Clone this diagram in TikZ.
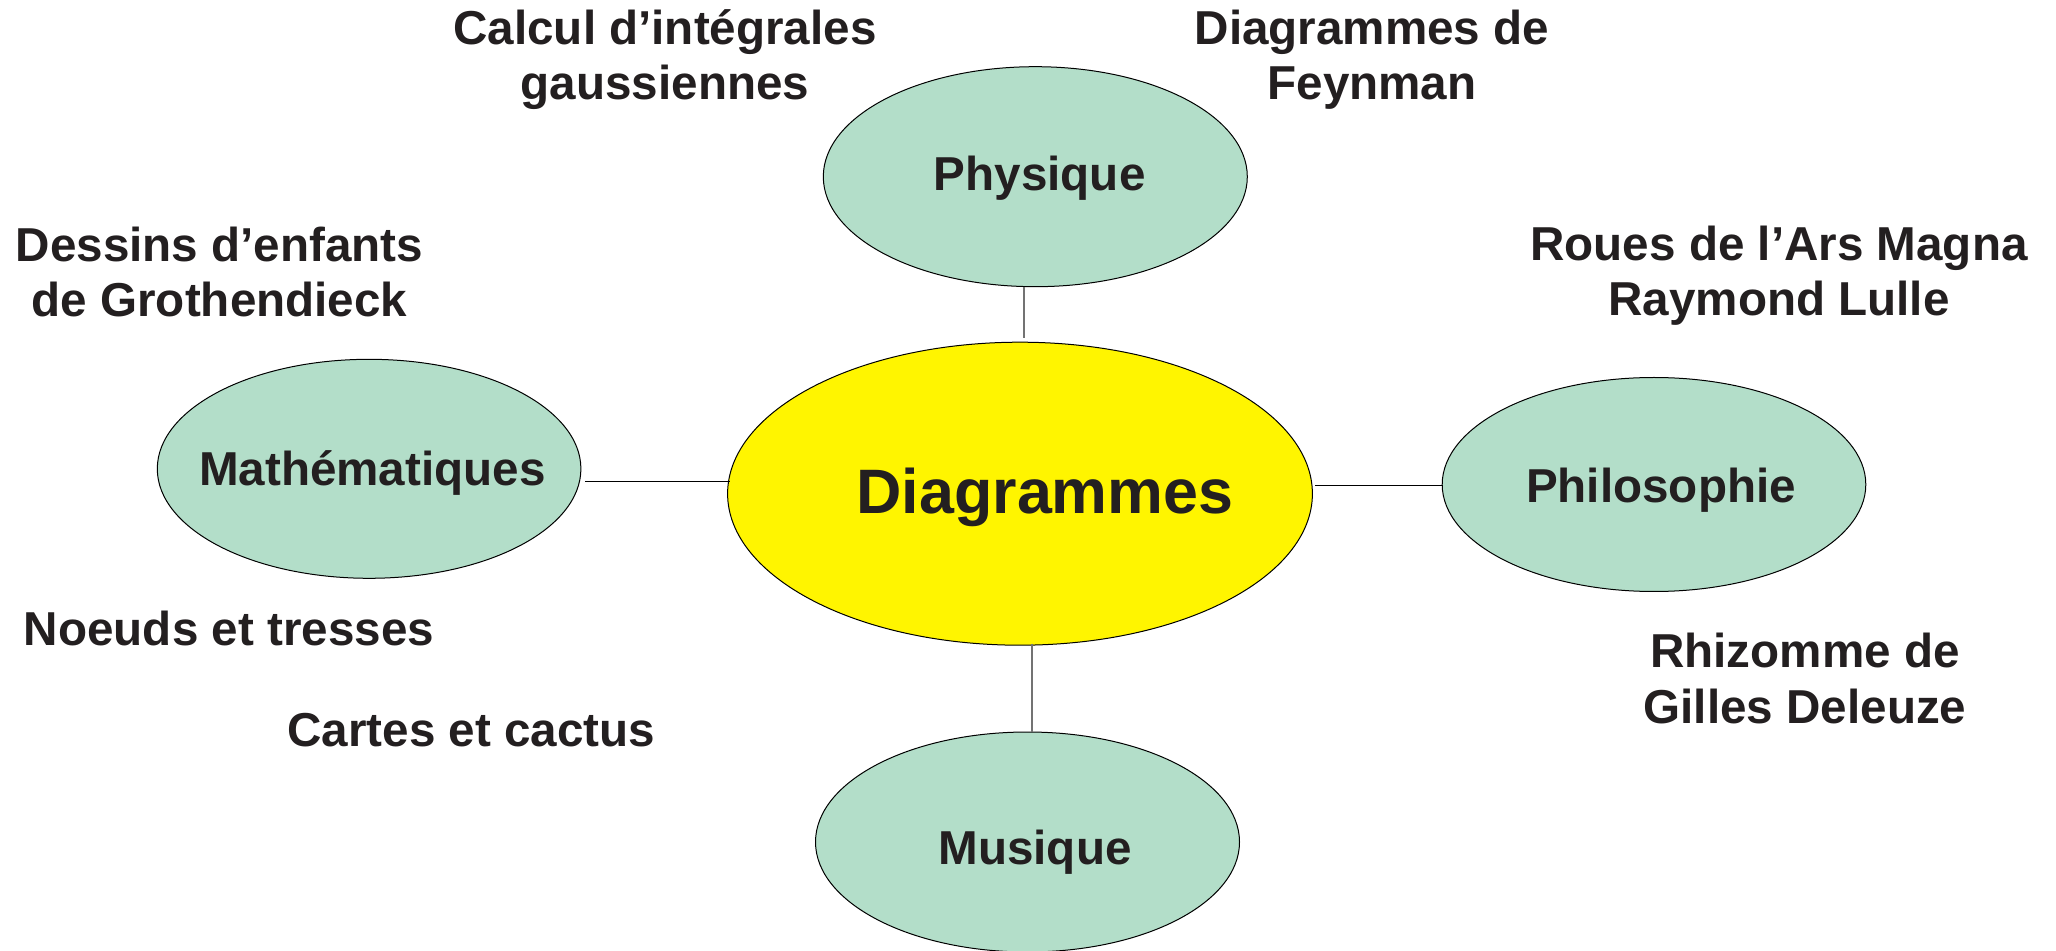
\documentclass[tikz,border=0pt]{standalone}
\usepackage{fontspec}
\setmainfont{Liberation Sans}
\usetikzlibrary{shapes.geometric,calc}

\definecolor{inkdark}{HTML}{231F20}
\definecolor{leafgreen}{HTML}{B3DEC9}
\definecolor{hubyellow}{HTML}{FFF500}

\tikzset{
  topic/.style={ellipse, draw=black, line width=0.5pt, fill=leafgreen, inner sep=0pt},
  hub/.style={ellipse, draw=black, line width=0.5pt, fill=hubyellow, inner sep=0pt},
  label/.style={anchor=base, inner sep=0pt, align=center, text=inkdark,
    font=\fontsize{23.8pt}{27.9pt}\selectfont\bfseries},
  bigtitle/.style={anchor=base, inner sep=0pt, text=inkdark,
    font=\fontsize{31.4pt}{36pt}\selectfont\bfseries},
  link/.style={line width=0.6pt, draw=black},
  greylink/.style={line width=0.6pt, draw=black!55}
}

\begin{document}
\begin{tikzpicture}[x=0.5pt, y=-0.5pt]
  \useasboundingbox (0,0) rectangle (2056,951);

  % ellipses
  \node[hub, minimum width=292.4pt, minimum height=151.5pt] (dia) at (1020,493.7) {};
  \node[topic, minimum width=212pt, minimum height=110pt] (phys) at (1035.3,176.7) {};
  \node[topic, minimum width=211.8pt, minimum height=109.5pt] (math) at (369.1,468.8) {};
  \node[topic, minimum width=211.8pt, minimum height=107pt] (philo) at (1654,484.5) {};
  \node[topic, minimum width=212pt, minimum height=110pt] (mus) at (1027.5,842) {};

  % ellipse captions
  \node[bigtitle] (tdia) at (1045,514) {Diagrammes};
  \node[label] (tphys) at (1039.7,190.7) {Physique};
  \node[label] (tmath) at (372.4,486) {Mathématiques};
  \node[label] (tphilo) at (1661,503) {Philosophie};
  \node[label] (tmus) at (1035,864) {Musique};

  % connectors
  \coordinate (pl) at (1024,0);
  \coordinate (ml) at (0,481.5);
  \coordinate (hl) at (0,485.5);
  \coordinate (ul) at (1032,0);
  \draw[greylink] (pl |- phys.south) -- ([yshift=2pt]pl |- dia.north);
  \draw[link] (ml -| math.east) ++(4,0) -- ([xshift=1.5pt]ml -| dia.west);
  \draw[link] (hl -| dia.east) ++(2,0) -- (hl -| philo.west);
  \draw[greylink] ([yshift=1pt]ul |- dia.south) -- (ul |- mus.north);

  % surrounding notes (anchored on the baseline of their last line)
  \node[label] (calc) at (665,100) {Calcul d’intégrales\\gaussiennes};
  \node[label] (feyn) at (1372,100) {Diagrammes de\\Feynman};
  \node[label] (dess) at (219.5,317) {Dessins d’enfants\\de Grothendieck};
  \node[label] (roues) at (1779,316) {Roues de l’Ars Magna\\Raymond Lulle};
  \node[label] (noeu) at (229,645.7) {Noeuds et tresses};
  \node[label] (cart) at (471.5,746) {Cartes et cactus};
  \node[label] (rhiz) at (1805,723) {Rhizomme de\\Gilles Deleuze};
\end{tikzpicture}
\end{document}
